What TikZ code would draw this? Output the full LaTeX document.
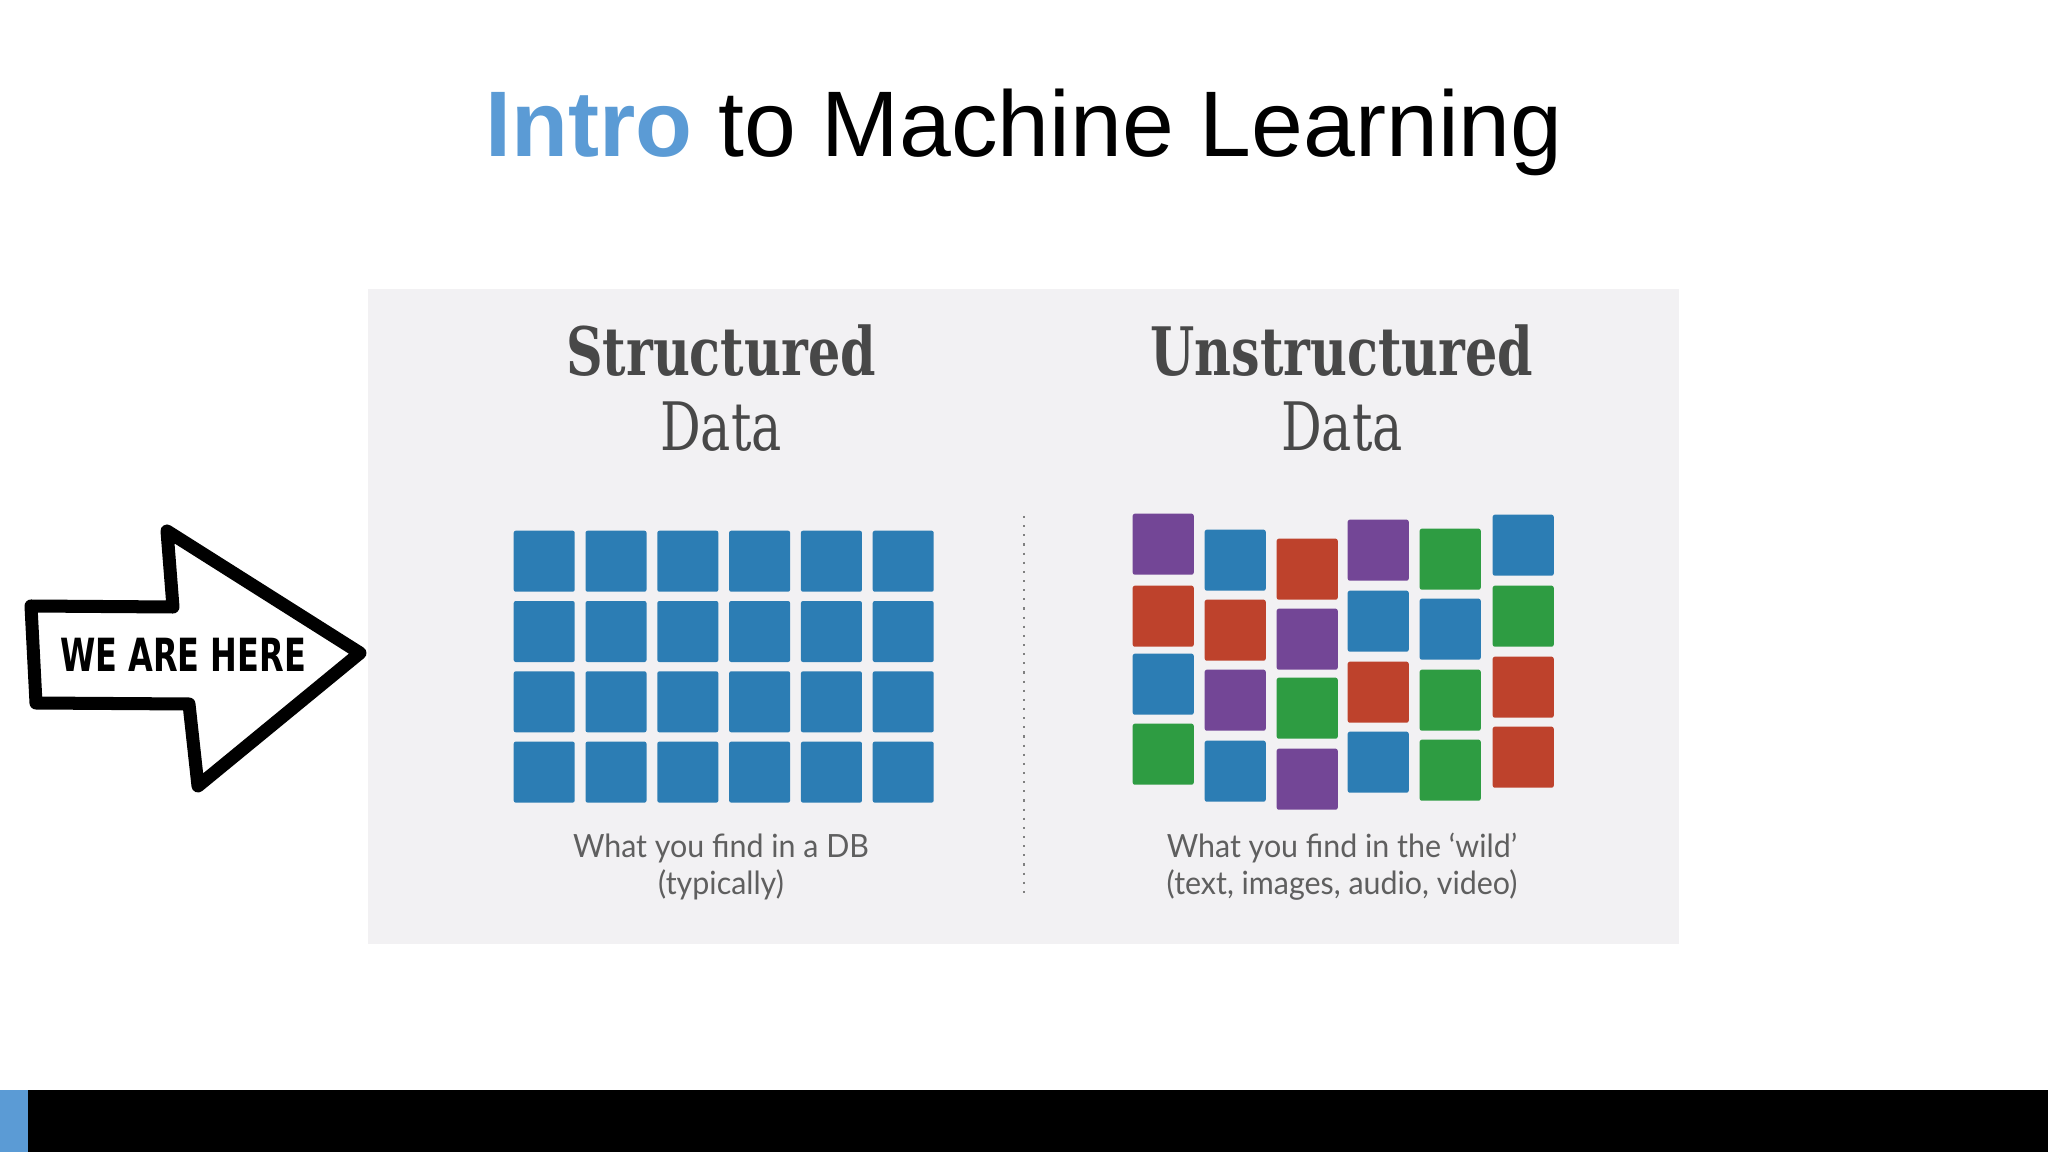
\documentclass[tikz,border=0pt]{standalone}
\usepackage{fontspec}
\setmainfont{Liberation Sans}
\newfontfamily\slabfont[FakeStretch=0.76]{DejaVu Serif}
\newfontfamily\capfont[FakeStretch=0.95]{Lato}
\newfontfamily\handfont[FakeStretch=0.7]{DejaVu Sans}
\usetikzlibrary{positioning}
\definecolor{introblue}{RGB}{91,155,213}
\definecolor{panelgray}{RGB}{242,241,243}
\definecolor{dblue}{RGB}{44,125,180}
\definecolor{dred}{RGB}{190,66,44}
\definecolor{dgreen}{RGB}{46,156,66}
\definecolor{dpurple}{RGB}{115,70,150}
\definecolor{headgray}{RGB}{72,72,72}
\definecolor{capgray}{RGB}{95,95,95}
\tikzset{cell/.style={anchor=north west, minimum size=0.61cm, inner sep=0pt,
  rounded corners=0.6pt},
  head/.style={anchor=base, text=headgray, font=\slabfont\fontsize{19}{22}\selectfont},
  caption/.style={align=center, text=capgray, font=\capfont\fontsize{9.1}{10.5}\selectfont}}

\begin{document}
\begin{tikzpicture}[x=0.01cm, y=-0.01cm]
  \useasboundingbox (0,0) rectangle (2048,1152);
  \fill[panelgray] (368,289) rectangle (1679,944);
  \fill[black] (0,1090) rectangle (2048,1152);   % footer
  \fill[introblue] (0,1090) rectangle (28,1152);
  \node[anchor=base, font=\fontsize{26.5}{30}\selectfont] (title) at (1024,157)
    {{\bfseries\color{introblue}Intro} to Machine Learning};
  % structured side
  \node[head, font=\slabfont\bfseries\fontsize{19}{22}\selectfont] (shead) at (721,376) {Structured};
  \node[head] (sdata) at (721,451) {Data};
  \foreach \c in {0,...,5}
    \foreach \r in {0,...,3}
      \node[cell, fill=dblue] (s-\c-\r) at (513+71.8*\c, 530+70.3*\r) {};
  \node[caption] (scap) at (721,867) {What you find in a DB\\(typically)};
  % divider
  \coordinate (dtop) at (1024,516);
  \coordinate (dbot) at (1024,895);
  \draw[gray, line width=0.6pt, dotted] (dtop) -- (dbot);
  % unstructured side
  \node[head, font=\slabfont\bfseries\fontsize{19}{22}\selectfont] (uhead) at (1342,376) {Unstructured};
  \node[head] (udata) at (1342,451) {Data};
  \foreach \x/\y/\col [count=\i] in {
      1132/513/dpurple, 1132/585/dred, 1132/653/dblue, 1132/723/dgreen,
      1204/529/dblue, 1204/599/dred, 1204/669/dpurple, 1204/740/dblue,
      1276/538/dred, 1276/608/dpurple, 1276/677/dgreen, 1276/748/dpurple,
      1347/519/dpurple, 1347/590/dblue, 1347/661/dred, 1347/731/dblue,
      1419/528/dgreen, 1419/598/dblue, 1419/669/dgreen, 1419/739/dgreen,
      1492/514/dblue, 1492/585/dgreen, 1492/656/dred, 1492/726/dred}
    \node[cell, fill=\col] (u-\i) at (\x,\y) {};
  \node[caption] (ucap) at (1342,867) {What you find in the ‘wild’\\(text, images, audio, video)};
  % arrow
  \draw[line width=3.7pt, line join=round, fill=white]
    (31,606) -- (173,607) -- (167,531) -- (360,653) -- (198,786)
    -- (189,704) -- (36,703) -- cycle;
  \node[font=\handfont\bfseries\fontsize{13}{15}\selectfont] (here) at (183,655) {WE ARE HERE};
\end{tikzpicture}
\end{document}
